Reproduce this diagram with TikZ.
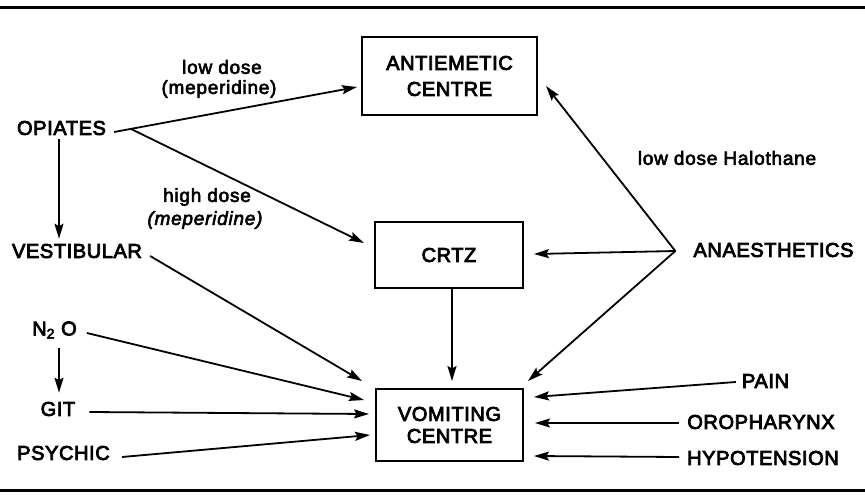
\documentclass[tikz,border=0pt]{standalone}
\usepackage{fontspec}
\setmainfont{Liberation Sans}[LetterSpace=4]
\newfontfamily\capfont{Liberation Sans}[LetterSpace=3,FakeBold=4]
\newfontfamily\labfont{Liberation Sans}[LetterSpace=4,FakeBold=3]
\newfontfamily\labitfont{Liberation Sans Italic}[LetterSpace=4,FakeBold=3]
\usetikzlibrary{arrows.meta,calc}
\begin{document}
\begin{tikzpicture}[x=1pt,y=-1pt,
  box/.style={draw,line width=2pt,inner sep=0pt,align=center,font=\capfont\fontsize{20}{24}\selectfont},
  txt/.style={inner sep=0pt,font=\capfont\fontsize{20}{22}\selectfont},
  small/.style={inner sep=0pt,font=\labfont\fontsize{19}{20}\selectfont},
  ln/.style={line width=1.8pt},
  arr/.style={line width=1.8pt,-{Stealth[length=15pt,width=9pt,inset=2.5pt]}},
  rule/.style={line width=3pt}]
\useasboundingbox (0,0) rectangle (865,498);
% rules
\draw[rule] (0,7) -- (865,7);
\draw[rule] (0,490) -- (865,490);
% boxes
\node[box,minimum width=175pt,minimum height=78pt,font=\capfont\fontsize{20}{26}\selectfont] (anti) at (449.5,76) {ANTIEMETIC\\CENTRE};
\node[box,minimum width=148pt,minimum height=66pt] (crtz) at (449,255) {CRTZ};
\node[box,minimum width=147pt,minimum height=72pt,font=\capfont\fontsize{20}{22}\selectfont] (vom) at (449.5,425) {VOMITING\\CENTRE};
% left labels
\node[txt] (opiates) at (61.5,128) {OPIATES};
\node[txt] (vest) at (77,251) {VESTIBULAR};
\node[txt] (n2o) at (54.5,330) {N\textsubscript{2} O};
\node[txt] (git) at (58,409) {GIT};
\node[txt] (psychic) at (63.5,453) {PSYCHIC};
% right labels
\node[txt] (anaes) at (773.5,250) {ANAESTHETICS};
\node[txt] (pain) at (765.5,381) {PAIN};
\node[txt] (oro) at (761,422) {OROPHARYNX};
\node[txt] (hypo) at (763,458) {HYPOTENSION};
% small labels
\node[small] (low) at (222,67) {low dose};
\node[small] (mep1) at (219,89) {(meperidine)};
\node[small] (high) at (207,197) {high dose};
\node[small,font=\labitfont\fontsize{19}{20}\selectfont] (mep2) at (205,220) {(meperidine)};
\node[small] (halo) at (727,158) {low dose Halothane};
% junctions
\coordinate (oj) at ($(opiates.east)+(25,1)$);
\coordinate (aj) at ($(anaes.west)+(-18,1)$);
% connectors
\draw[arr] ($(opiates.east)+(8,4)$) -- ($(anti.west)+(-4,11)$);
\draw[arr] (oj) -- ($(crtz.west)+(-10,-12)$);
\draw[arr] ($(opiates.south)+(-2.5,4)$) -- ($(vest.north)+(-18,-5)$);
\draw[arr] ($(vest.east)+(8,5)$) -- ($(vom.west)+(-13,-44)$);
\draw[arr] ($(n2o.east)+(10,3)$) -- ($(vom.west)+(-11,-25)$);
\draw[arr] ($(n2o.south)+(4.5,9)$) -- ($(git.north)+(1,-9)$);
\draw[arr] ($(git.east)+(14,3)$) -- ($(vom.west)+(-6,-11)$);
\draw[arr] ($(psychic.east)+(12,4)$) -- ($(vom.west)+(-5,10)$);
\draw[arr] ($(crtz.south)+(3,0)$) -- ($(vom.north)+(2.5,-7)$);
\draw[arr] (aj) -- ($(anti.east)+(8,10)$);
\draw[arr] (aj) -- ($(crtz.east)+(10,-1)$);
\draw[arr] (aj) -- ($(vom.north east)+(4,-7)$);
\draw[arr] ($(pain.west)+(-6,1)$) -- ($(vom.east)+(10,-28)$);
\draw[arr] ($(oro.west)+(-8,1)$) -- ($(vom.east)+(11,-2)$);
\draw[arr] ($(hypo.west)+(-8,-1)$) -- ($(vom.east)+(10,31)$);
\end{tikzpicture}
\end{document}
